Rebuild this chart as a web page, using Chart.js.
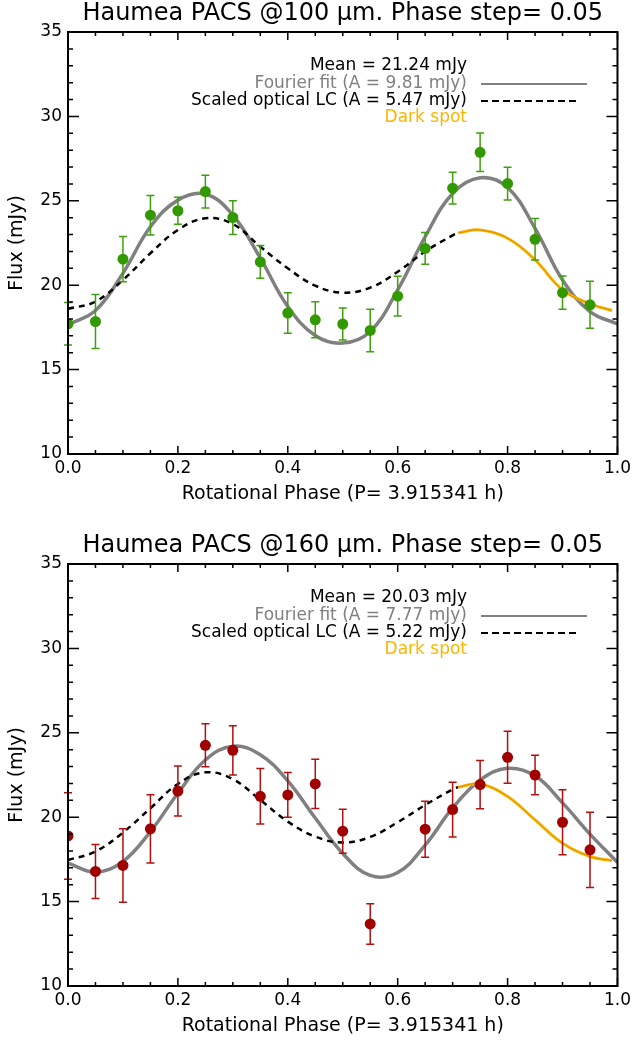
<!DOCTYPE html>
<html>
<head>
<meta charset="utf-8">
<script src="https://cdn.jsdelivr.net/npm/chart.js@4.4.1/dist/chart.umd.min.js"></script>
<style>
  body { margin: 0; background: #fff; }
  .panel { width: 635px; height: 513px; }
  #p2 { margin-top: 19px; }
</style>
</head>
<body>
<div class="panel" id="p1"><canvas id="chart100" width="635" height="513"></canvas></div>
<div class="panel" id="p2"><canvas id="chart160" width="635" height="513"></canvas></div>
<script>
// 100 micron band
const phase100 = [0.00, 0.05, 0.10, 0.15, 0.20, 0.25, 0.30, 0.35, 0.40, 0.45,
                  0.50, 0.55, 0.60, 0.65, 0.70, 0.75, 0.80, 0.85, 0.90, 0.95];
const flux100 = [17.71, 17.85, 21.54, 24.15, 24.41, 25.55, 24.01, 21.38, 18.35, 17.95,
                 17.70, 17.32, 19.35, 22.18, 25.75, 27.87, 26.02, 22.72, 19.56, 18.84];
const err100 = [1.26, 1.60, 1.34, 1.17, 0.80, 0.97, 1.00, 0.97, 1.20, 1.07,
                0.95, 1.26, 1.18, 0.94, 0.94, 1.14, 0.97, 1.23, 0.98, 1.39];

const fitPhase100 = [0.00, 0.05, 0.10, 0.15, 0.20, 0.25, 0.30, 0.35, 0.40, 0.45, 0.50,
                     0.55, 0.60, 0.65, 0.70, 0.75, 0.80, 0.85, 0.90, 0.95, 1.00];
const fit100 = [17.66, 18.50, 20.71, 23.46, 25.04, 25.40, 24.15, 21.60, 18.74, 17.02, 16.57,
                17.26, 19.72, 22.87, 25.43, 26.36, 25.79, 23.37, 20.31, 18.44, 17.70];

const lcPhase100 = [0.00, 0.05, 0.10, 0.15, 0.20, 0.25, 0.30, 0.35, 0.40, 0.45,
                    0.50, 0.55, 0.60, 0.65, 0.70, 0.71];
const lc100 = [18.60, 19.03, 20.31, 21.89, 23.27, 23.96, 23.62, 22.28, 21.00, 19.97,
               19.56, 19.86, 20.80, 22.00, 22.95, 23.10];

const spotPhase100 = [0.71, 0.75, 0.80, 0.85, 0.90, 0.95, 0.99];
const spot100 = [23.10, 23.27, 22.78, 21.50, 19.72, 18.90, 18.50];

// 160 micron band (no bin at phase 0.60)
const phase160 = [0.00, 0.05, 0.10, 0.15, 0.20, 0.25, 0.30, 0.35, 0.40, 0.45,
                  0.50, 0.55, 0.65, 0.70, 0.75, 0.80, 0.85, 0.90, 0.95];
const flux160 = [18.89, 16.79, 17.14, 19.31, 21.55, 24.26, 23.96, 21.24, 21.32, 21.97,
                 19.17, 13.68, 19.29, 20.45, 21.93, 23.55, 22.50, 19.70, 18.07];
const err160 = [2.56, 1.60, 2.18, 2.02, 1.48, 1.27, 1.46, 1.65, 1.33, 1.46,
                1.30, 1.20, 1.66, 1.62, 1.43, 1.54, 1.17, 1.93, 2.23];

const fitPhase160 = [0.00, 0.05, 0.10, 0.15, 0.20, 0.25, 0.30, 0.35, 0.40, 0.45, 0.50,
                     0.55, 0.60, 0.65, 0.70, 0.75, 0.80, 0.85, 0.90, 0.95, 1.00];
const fit160 = [17.28, 16.75, 17.38, 19.15, 21.42, 23.39, 24.21, 23.70, 22.15, 19.95, 17.85,
                16.55, 16.72, 18.35, 20.55, 22.20, 22.90, 22.45, 20.85, 19.00, 17.32];

const lcPhase160 = [0.00, 0.05, 0.10, 0.15, 0.20, 0.25, 0.30, 0.35, 0.40, 0.45,
                    0.50, 0.55, 0.60, 0.65, 0.70, 0.71];
const lc160 = [17.46, 17.97, 19.09, 20.53, 21.97, 22.66, 22.25, 21.02, 19.74, 18.85,
               18.50, 18.83, 19.70, 20.72, 21.65, 21.78];

const spotPhase160 = [0.71, 0.75, 0.80, 0.85, 0.90, 0.95, 0.99];
const spot160 = [21.78, 21.97, 21.22, 19.84, 18.46, 17.67, 17.43];

const xTicks = [0.0, 0.2, 0.4, 0.6, 0.8, 1.0];
const yTicks = [10, 15, 20, 25, 30, 35];

Chart.defaults.font.family = "'DejaVu Sans', sans-serif";
Chart.defaults.color = '#000';

function pairs(xs, ys) {
    return xs.map((x, i) => ({ x: x, y: ys[i] }));
}

// error bars, drawn just before the points dataset
const errorBars = {
    id: 'errorBars',
    beforeDatasetDraw(chart, args, opts) {
        if (args.index !== 0) return;
        const { ctx, scales: { x, y } } = chart;
        ctx.save();
        ctx.strokeStyle = opts.color;
        ctx.lineWidth = 1.5;
        opts.phase.forEach((p, i) => {
            const px = x.getPixelForValue(p);
            const top = y.getPixelForValue(opts.flux[i] + opts.err[i]);
            const bot = y.getPixelForValue(opts.flux[i] - opts.err[i]);
            ctx.beginPath();
            ctx.moveTo(px, top); ctx.lineTo(px, bot);
            ctx.moveTo(px - 4, top); ctx.lineTo(px + 4, top);
            ctx.moveTo(px - 4, bot); ctx.lineTo(px + 4, bot);
            ctx.stroke();
        });
        ctx.restore();
    }
};

// IDL style box with inward ticks on all four sides
const frame = {
    id: 'frame',
    afterDatasetsDraw(chart) {
        const { ctx, chartArea: a, scales: { x, y } } = chart;
        ctx.save();
        ctx.strokeStyle = '#000';
        ctx.lineWidth = 1.5;
        ctx.beginPath();
        for (let i = 0; i <= 20; i++) {
            const px = x.getPixelForValue(i / 20);
            const len = i % 4 === 0 ? 8 : 4;
            ctx.moveTo(px, a.bottom); ctx.lineTo(px, a.bottom - len);
            ctx.moveTo(px, a.top); ctx.lineTo(px, a.top + len);
        }
        for (let v = 10; v <= 35; v++) {
            const py = y.getPixelForValue(v);
            const len = v % 5 === 0 ? 11 : 5;
            ctx.moveTo(a.left, py); ctx.lineTo(a.left + len, py);
            ctx.moveTo(a.right, py); ctx.lineTo(a.right - len, py);
        }
        ctx.stroke();
        ctx.lineWidth = 2;
        ctx.strokeRect(a.left, a.top, a.right - a.left, a.bottom - a.top);
        ctx.restore();
    }
};

const panelLegend = {
    id: 'panelLegend',
    afterDraw(chart, args, opts) {
        const { ctx, chartArea: a } = chart;
        const tx = a.left + 399;
        const lx0 = a.left + 413, lx1 = a.left + 519;
        ctx.save();
        ctx.font = "17px 'DejaVu Sans'";
        ctx.textAlign = 'right';
        ctx.textBaseline = 'middle';
        const rows = [a.top + 34, a.top + 52, a.top + 69, a.top + 86];

        ctx.fillStyle = '#000';
        ctx.fillText('Mean = ' + opts.mean + ' mJy', tx, rows[0]);

        ctx.fillStyle = '#808080';
        ctx.fillText('Fourier fit (A = ' + opts.fitA + ' mJy)', tx, rows[1]);
        ctx.strokeStyle = '#808080';
        ctx.lineWidth = 2;
        ctx.beginPath(); ctx.moveTo(lx0, rows[1]); ctx.lineTo(lx1, rows[1]); ctx.stroke();

        ctx.fillStyle = '#000';
        ctx.fillText('Scaled optical LC (A = ' + opts.lcA + ' mJy)', tx, rows[2]);
        ctx.strokeStyle = '#000';
        ctx.setLineDash([7, 4]);
        ctx.beginPath(); ctx.moveTo(lx0, rows[2]); ctx.lineTo(lx1 - 7, rows[2]); ctx.stroke();
        ctx.setLineDash([]);

        ctx.fillStyle = '#ffb400';
        ctx.fillText('Dark spot', tx, rows[3]);
        ctx.restore();
    }
};

function makePanel(canvasId, band, dotColor, barColor, d) {
    return new Chart(document.getElementById(canvasId), {
        type: 'line',
        data: {
            datasets: [
                {
                    label: 'PACS ' + band,
                    data: pairs(d.phase, d.flux),
                    showLine: false,
                    pointRadius: 5.5,
                    pointBackgroundColor: dotColor,
                    pointBorderWidth: 0,
                    order: 0
                },
                {
                    label: 'Dark spot core',
                    data: pairs(d.spotPhase, d.spot),
                    borderColor: 'rgba(0,0,0,0.3)',
                    borderWidth: 0.6,
                    pointRadius: 0,
                    tension: 0.4,
                    order: 1
                },
                {
                    label: 'Dark spot',
                    data: pairs(d.spotPhase, d.spot),
                    borderColor: '#ffb400',
                    borderWidth: 3,
                    pointRadius: 0,
                    tension: 0.4,
                    order: 2
                },
                {
                    label: 'Scaled optical LC',
                    data: pairs(d.lcPhase, d.lc),
                    borderColor: '#000',
                    borderWidth: 2.5,
                    borderDash: [6, 5],
                    pointRadius: 0,
                    tension: 0.4,
                    order: 3
                },
                {
                    label: 'Fourier fit',
                    data: pairs(d.fitPhase, d.fit),
                    borderColor: '#808080',
                    borderWidth: 3.5,
                    pointRadius: 0,
                    tension: 0.4,
                    order: 4
                }
            ]
        },
        options: {
            responsive: false,
            animation: false,
            layout: { padding: { left: 0, right: 17, top: 0, bottom: 0 } },
            scales: {
                x: {
                    type: 'linear',
                    min: 0,
                    max: 1,
                    afterFit: (s) => { s.height = 59; },
                    afterBuildTicks: (s) => { s.ticks = xTicks.map(v => ({ value: v })); },
                    ticks: {
                        padding: 4,
                        font: { size: 17 },
                        callback: (v) => v.toFixed(1)
                    },
                    grid: { display: false, drawTicks: false },
                    border: { display: false },
                    title: {
                        display: true,
                        text: 'Rotational Phase (P= 3.915341 h)',
                        font: { size: 19 },
                        padding: { top: 0, bottom: 7.6 }
                    }
                },
                y: {
                    min: 10,
                    max: 35,
                    afterFit: (s) => { s.width = 68; },
                    afterBuildTicks: (s) => { s.ticks = yTicks.map(v => ({ value: v })); },
                    ticks: { padding: 6, font: { size: 17 } },
                    grid: { display: false, drawTicks: false },
                    border: { display: false },
                    title: {
                        display: true,
                        text: 'Flux (mJy)',
                        font: { size: 19 },
                        padding: { top: 5.6, bottom: 0 }
                    }
                }
            },
            plugins: {
                legend: { display: false },
                tooltip: { enabled: false },
                title: {
                    display: true,
                    fullSize: false,
                    text: 'Haumea PACS @' + band + ' µm. Phase step= 0.05',
                    font: { size: 24, weight: 'normal', lineHeight: 1.15 },
                    padding: { top: 0, bottom: 4.4 }
                },
                errorBars: { color: barColor, phase: d.phase, flux: d.flux, err: d.err },
                panelLegend: { mean: d.mean, fitA: d.fitA, lcA: d.lcA }
            }
        },
        plugins: [errorBars, frame, panelLegend]
    });
}

makePanel('chart100', '100', '#339900', '#3f9f10', {
    phase: phase100, flux: flux100, err: err100,
    fitPhase: fitPhase100, fit: fit100,
    lcPhase: lcPhase100, lc: lc100,
    spotPhase: spotPhase100, spot: spot100,
    mean: '21.24', fitA: '9.81', lcA: '5.47'
});

makePanel('chart160', '160', '#a00000', '#b01010', {
    phase: phase160, flux: flux160, err: err160,
    fitPhase: fitPhase160, fit: fit160,
    lcPhase: lcPhase160, lc: lc160,
    spotPhase: spotPhase160, spot: spot160,
    mean: '20.03', fitA: '7.77', lcA: '5.22'
});
</script>
</body>
</html>
